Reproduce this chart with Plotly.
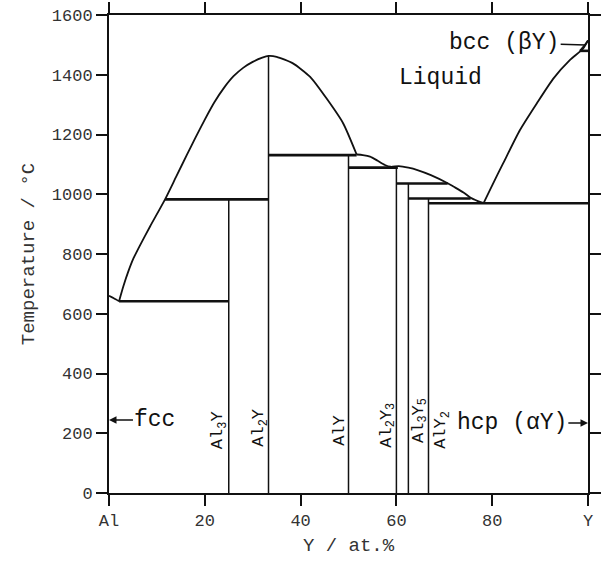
import plotly.graph_objects as go

# ---------------- data (composition in at.% Y, temperature in degC) ----------------
liq_al_x = [0, 1.0, 2.1]
liq_al_t = [660, 652, 642]

liq_al2y_x = [2.1, 3, 4, 5.1, 6.5, 8.6, 11.7, 14, 16.2, 18, 20, 22, 24, 26, 28, 30, 32, 33.3,
              35, 38.4, 42, 45.4, 48.9, 51.7]
liq_al2y_t = [642, 692, 740, 785, 830, 893, 983, 1058, 1130, 1188, 1250, 1308, 1356, 1395, 1423, 1443, 1457, 1463,
              1460, 1438, 1393, 1321, 1237, 1133]

liq_mid_x = [51.7, 53, 54.5, 56, 57.6, 58.8, 60.5, 62.5, 64.4, 67.2, 70.7, 72, 74, 75.5, 77, 78.2]
liq_mid_t = [1133, 1131, 1126, 1113, 1098, 1092, 1094, 1089, 1081, 1064, 1037, 1025, 1006, 988, 977, 970]

liq_y_x = [78.2, 80, 82.3, 85.8, 89.3, 92.8, 96.2, 99, 100]
liq_y_t = [970, 1030, 1104, 1215, 1304, 1388, 1449, 1488, 1515]

bcc_sol_x = [98.3, 99.2, 100]
bcc_sol_t = [1480, 1497, 1515]

# invariant (horizontal) lines: start, end, temperature
inv_x0 = [2.1, 11.7, 33.3, 50, 60, 62.5, 66.7, 98.3]
inv_x1 = [25, 33.3, 51.7, 60.3, 70.7, 75.5, 100, 100]
inv_t = [642, 983, 1131, 1089, 1036, 986, 970, 1480]

# intermetallic compounds: composition, upper temperature, label
cmp_x = [25, 33.3, 50, 60, 62.5, 66.7]
cmp_t = [983, 1463, 1131, 1089, 1036, 986]
cmp_lbl = ["Al<sub>3</sub>Y", "Al<sub>2</sub>Y", "AlY", "Al<sub>2</sub>Y<sub>3</sub>",
           "Al<sub>3</sub>Y<sub>5</sub>", "AlY<sub>2</sub>"]
cmp_lbl_x = [23.0, 31.5, 48.2, 58.2, 64.9, 69.5]
cmp_lbl_t = [211, 218, 211, 228, 244, 211]

x_tick_vals = [0, 20, 40, 60, 80, 100]
x_tick_text = ["Al", "20", "40", "60", "80", "Y"]
y_tick_vals = [0, 200, 400, 600, 800, 1000, 1200, 1400, 1600]

FONT = "Liberation Mono, Courier New, Courier, monospace"
BLACK = "#111111"

fig = go.Figure()

def add_line(x, y, w, shape="linear"):
    fig.add_trace(go.Scatter(x=x, y=y, mode="lines",
                             line=dict(color=BLACK, width=w, shape=shape, smoothing=0.6 if shape == "spline" else None),
                             hoverinfo="skip", showlegend=False))

for xs, ts in [(liq_al_x, liq_al_t), (liq_al2y_x, liq_al2y_t), (liq_mid_x, liq_mid_t),
               (liq_y_x, liq_y_t), (bcc_sol_x, bcc_sol_t)]:
    add_line(xs, ts, 1.8, "spline")

# compound verticals
vx, vy = [], []
for cx, ct in zip(cmp_x, cmp_t):
    vx += [cx, cx, None]
    vy += [0, ct, None]
add_line(vx, vy, 1.5)

# invariant horizontals
hx, hy = [], []
for a, b, t in zip(inv_x0, inv_x1, inv_t):
    hx += [a, b, None]
    hy += [t, t, None]
add_line(hx, hy, 2.6)

annotations = []
for lx, lt, lab in zip(cmp_lbl_x, cmp_lbl_t, cmp_lbl):
    annotations.append(dict(x=lx, y=lt, text=lab, showarrow=False, textangle=-90,
                            font=dict(family=FONT, size=17, color=BLACK)))

annotations.append(dict(x=69.3, y=1389, text="Liquid", showarrow=False,
                        font=dict(family=FONT, size=23, color=BLACK)))
annotations.append(dict(x=0, y=244, ax=9.6, ay=244, axref="x", ayref="y", text="fcc",
                        showarrow=True, arrowhead=2, arrowsize=1, arrowwidth=1.5, arrowcolor=BLACK,
                        font=dict(family=FONT, size=23, color=BLACK)))
annotations.append(dict(x=100, y=234, ax=84.1, ay=234, axref="x", ayref="y", text="hcp (\u03b1Y)",
                        showarrow=True, arrowhead=2, arrowsize=1, arrowwidth=1.5, arrowcolor=BLACK,
                        font=dict(family=FONT, size=23, color=BLACK)))
annotations.append(dict(x=99.5, y=1500, ax=82.5, ay=1506, axref="x", ayref="y", text="bcc (\u03b2Y)",
                        showarrow=True, arrowhead=0, arrowwidth=1.5, arrowcolor=BLACK,
                        font=dict(family=FONT, size=23, color=BLACK)))

axis_common = dict(showline=True, linecolor=BLACK, linewidth=2, mirror="allticks",
                   ticks="outside", ticklen=11, tickwidth=1.5, tickcolor=BLACK,
                   showgrid=False, zeroline=False, automargin=False,
                   tickfont=dict(family=FONT, size=17, color="#333333"))

fig.update_layout(
    width=605, height=566,
    margin=dict(l=109, r=17, t=15, b=73),
    paper_bgcolor="white", plot_bgcolor="white",
    xaxis=dict(range=[0, 100], tickvals=x_tick_vals, ticktext=x_tick_text,
               title=dict(text="Y / at.%", font=dict(family=FONT, size=19, color="#333333"), standoff=7),
               **axis_common),
    yaxis=dict(range=[0, 1600], tickvals=y_tick_vals,
               title=dict(text="Temperature / \u00b0C", font=dict(family=FONT, size=19, color="#333333"), standoff=12),
               **axis_common),
    annotations=annotations,
)

fig.write_html("out.html", config={"displayModeBar": False},
               post_script="document.body.style.margin='0px';")
